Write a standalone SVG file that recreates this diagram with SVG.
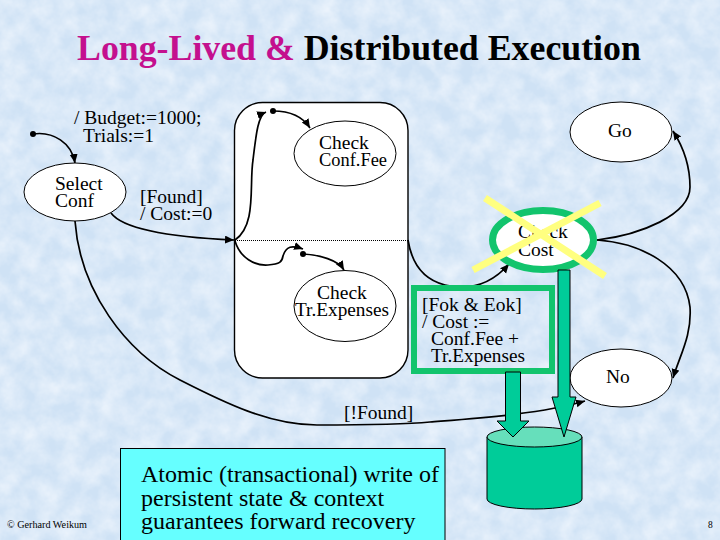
<svg xmlns="http://www.w3.org/2000/svg" width="720" height="540" viewBox="0 0 720 540">
<style>
text{font-family:"Liberation Serif","Times New Roman",serif;fill:#000}
.l{font-size:19.5px}
.st{fill:#fff;stroke:#000;stroke-width:1}
.c{fill:none;stroke:#000;stroke-width:1.7}
.g{fill:#00cc99;stroke:#000;stroke-width:1}
.dot{fill:#000}
.t{font-size:35.8px;font-weight:bold}
</style>
<defs>
<marker id="a" markerUnits="userSpaceOnUse" markerWidth="12" markerHeight="10" refX="9" refY="4" orient="auto"><path d="M0,0L9,4L0,8z" fill="#000"/></marker>
<filter id="tex" x="0" y="0" width="100%" height="100%"><feTurbulence type="fractalNoise" baseFrequency="0.05" numOctaves="4" seed="7"/><feColorMatrix values="0 0 0 0 0.93  0 0 0 0 0.96  0 0 0 0 1  1.1 0 0 0 -0.3"/></filter>
</defs>
<rect id="background" width="720" height="540" fill="#cfe2f5"/>
<rect id="texture" width="720" height="540" filter="url(#tex)"/>
<text id="title" class="t" x="77" y="60"><tspan fill="#c4108e">Long-Lived &amp; </tspan>Distributed Execution</text>
<g id="composite"><rect x="234.5" y="102.5" width="173.500" height="275.500" rx="28" fill="#fff" stroke="#000" stroke-width="1.4"/><line x1="235" y1="240.500" x2="408" y2="240.500" stroke="#000" stroke-width="1" stroke-dasharray="1 1"/></g>
<g id="connectors">
<path class="c" d="M75,221C80,290 125,352 180,380C225,403 270,425 317,425C360,425 400,425 430,422C480,418 540,414 585,401" marker-end="url(#a)"/>
<path class="c" d="M33,134C53,131 72,143 75,163" marker-end="url(#a)"/>
<path class="c" d="M111,213C125,232 190,238 234,240" marker-end="url(#a)"/>
<path class="c" d="M235,240C257,225 249,185 253,160C256,135 258,115 266,112" marker-end="url(#a)"/>
<path class="c" d="M273,111C290,111 303,117 310,128" marker-end="url(#a)"/>
<path class="c" d="M235,241C240,258 255,266 268,265C280,264 282,262 283,256C286,246 292,245 303,249" marker-end="url(#a)"/>
<path class="c" d="M303,254C320,255 338,260 344,270" marker-end="url(#a)"/>
<path class="c" d="M408,240C412,265 425,280 445,285C475,292 495,280 509,264" marker-end="url(#a)"/>
<path class="c" d="M597,240C640,235 690,215 690,187C690,165 682,145 673,131" marker-end="url(#a)"/>
<path class="c" d="M597,240C640,243 685,265 690,307C692,335 680,355 673,378" marker-end="url(#a)"/>
<circle class="dot" cx="33" cy="134" r="3"/><circle class="dot" cx="273" cy="111" r="3"/><circle class="dot" cx="303" cy="254" r="3"/>
</g>
<g id="selectconf"><ellipse class="st" cx="75" cy="192" rx="51" ry="29"/><text class="l" x="55" y="190">Select</text><text class="l" x="55" y="207">Conf</text></g>
<g id="checkconffee"><ellipse class="st" cx="345" cy="153.500" rx="51" ry="32.500"/><text class="l" x="319" y="148.500">Check</text><text class="l" x="319" y="165.500" textLength="68" lengthAdjust="spacingAndGlyphs">Conf.Fee</text></g>
<g id="checktrexpenses"><ellipse class="st" cx="345" cy="306" rx="51" ry="35.500"/><text class="l" x="317" y="298.500">Check</text><text class="l" x="295" y="315.500" textLength="94" lengthAdjust="spacingAndGlyphs">Tr.Expenses</text></g>
<g id="go"><ellipse class="st" cx="621" cy="132" rx="51" ry="30"/><text class="l" x="608" y="137">Go</text></g>
<g id="no"><ellipse class="st" cx="621" cy="378" rx="51" ry="29"/><text class="l" x="606" y="383">No</text></g>
<g id="labels">
<text class="l" x="74" y="124">/ Budget:=1000;</text><text class="l" x="83" y="142">Trials:=1</text>
<text class="l" x="140" y="203">[Found]</text><text class="l" x="140" y="220">/ Cost:=0</text>
<text class="l" x="344" y="419">[!Found]</text>
<text x="7" y="528" font-size="9.500" textLength="80" lengthAdjust="spacingAndGlyphs">© Gerhard Weikum</text>
<text x="708" y="528" font-size="9.500">8</text>
</g>
<g id="checkcost"><ellipse cx="543" cy="240" rx="50.500" ry="29.500" fill="#fff" stroke="#12c46d" stroke-width="7"/><text class="l" x="518" y="238">Check</text><text class="l" x="518" y="256">Cost</text>
<g stroke="#ffff80" stroke-width="7"><line x1="485" y1="198" x2="605" y2="276"/><line x1="600" y1="203" x2="473" y2="270"/></g></g>
<g id="persistentstore"><path class="g" d="M487,437V499A47.500,10 0 0 0 582,499V437z"/><ellipse cx="534.500" cy="437" rx="47.500" ry="10" fill="#66dfbb" stroke="#000"/></g>
<g id="guard"><rect x="414" y="288" width="138" height="83" fill="none" stroke="#12c46d" stroke-width="6"/>
<text class="l" x="422" y="311">[Fok &amp; Eok]</text><text class="l" x="422" y="328">/ Cost :=</text><text class="l" x="431" y="345">Conf.Fee +</text><text class="l" x="431" y="362" textLength="94" lengthAdjust="spacingAndGlyphs">Tr.Expenses</text></g>
<g id="writearrows"><path class="g" d="M505.500,372H520.500V421H529L513,437L497,421H505.500z"/><path class="g" d="M558,270H570V397H576L564,437L552,397H558z"/></g>
<g id="note"><rect x="120.500" y="448.500" width="324.500" height="92" fill="#66ffff" stroke="#000"/>
<text x="141" y="482" font-size="24px">Atomic (transactional) write of</text><text x="141" y="506" font-size="24px">persistent state &amp; context</text><text x="141" y="529" font-size="24px">guarantees forward recovery</text></g>
</svg>
